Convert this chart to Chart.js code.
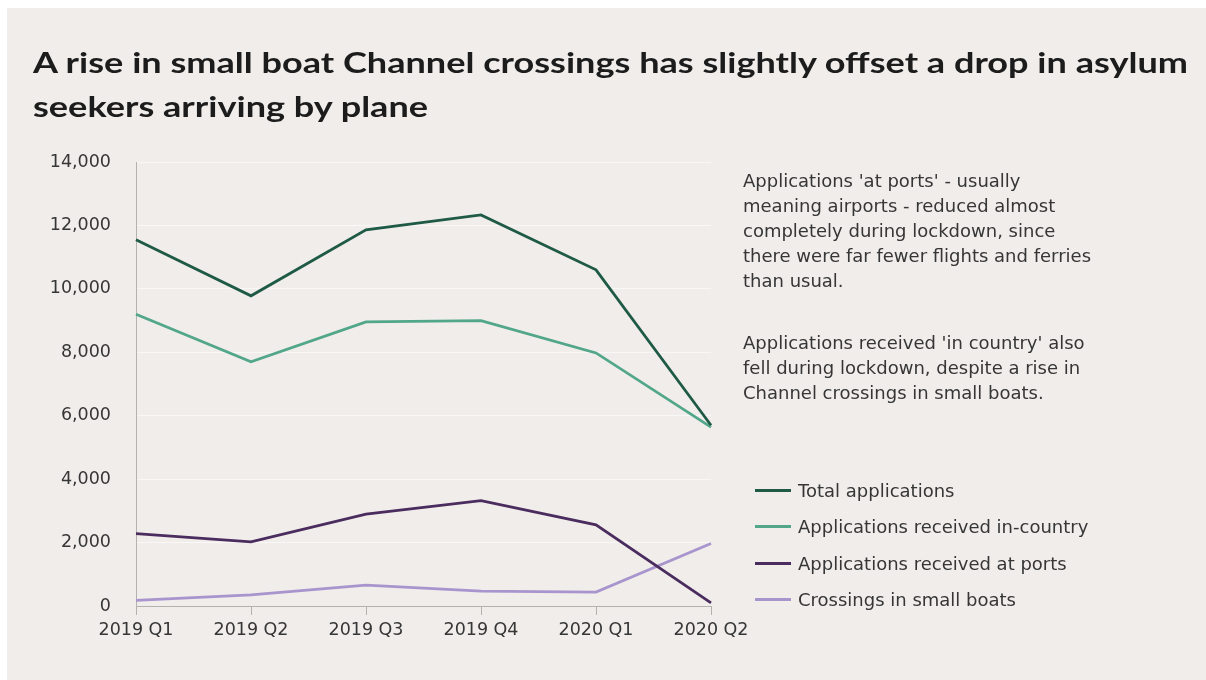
<!DOCTYPE html>
<html>
<head>
<meta charset="utf-8">
<script src="https://cdn.jsdelivr.net/npm/chart.js@4"></script>
<style>
  html, body { margin: 0; padding: 0; background: #ffffff; }
  #panel { position: absolute; left: 7px; top: 8px; width: 1199px; height: 672px; background: #f0edeb; }
  #wrap { position: absolute; left: 0; top: 0; width: 1206px; height: 680px; }
  #title { position: absolute; left: 33px; top: 40px; font-family: Lato, sans-serif; font-weight: 700; font-size: 29px; line-height: 44px; color: #1c1c1c; white-space: nowrap; transform-origin: 0 0; }
  .note { position: absolute; left: 743px; width: 440px; font-family: "DejaVu Sans", sans-serif; font-size: 18px; line-height: 25px; color: #363636; white-space: nowrap; }
  #legend { position: absolute; left: 755px; top: 478px; font-family: "DejaVu Sans", sans-serif; font-size: 18px; color: #363636; }
  .li { height: 36.5px; display: flex; align-items: center; }
  .sw { width: 36px; height: 3px; margin-right: 7px; margin-top: -12px; }
  .lt { margin-top: -12px; }
</style>
</head>
<body>
<div id="panel"></div>
<div id="wrap"><canvas id="c" width="1206" height="680"></canvas></div>
<div id="title"><span id="t1">A rise in small boat Channel crossings has slightly offset a drop in asylum</span><br>seekers arriving by plane</div>
<div class="note" style="top:168px">Applications 'at ports' - usually<br>meaning airports - reduced almost<br>completely during lockdown, since<br>there were far fewer flights and ferries<br>than usual.</div>
<div class="note" style="top:330px">Applications received 'in country' also<br>fell during lockdown, despite a rise in<br>Channel crossings in small boats.</div>
<div id="legend"></div>
<script>
const categories = ['2019 Q1', '2019 Q2', '2019 Q3', '2019 Q4', '2020 Q1', '2020 Q2'];
const totalApplications = [11550, 9780, 11860, 12330, 10600, 5700];
const inCountry = [9200, 7700, 8960, 9000, 7980, 5640];
const atPorts = [2280, 2020, 2900, 3320, 2560, 100];
const smallBoats = [180, 350, 660, 470, 440, 1970];
const yTicks = [0, 2000, 4000, 6000, 8000, 10000, 12000, 14000];
const seriesNames = ['Total applications', 'Applications received in-country', 'Applications received at ports', 'Crossings in small boats'];
const seriesColors = ['#1f5a46', '#52a78a', '#4a2d5e', '#a995cd'];
const seriesData = [totalApplications, inCountry, atPorts, smallBoats];

// stretch title horizontally to match the reference's wide typeface
const t = document.getElementById('title');
const w = document.getElementById('t1').getBoundingClientRect().width;
t.style.transform = 'scaleX(' + (1155 / w) + ')';

const datasets = seriesData.map((d, i) => ({
  label: seriesNames[i],
  data: d,
  borderColor: seriesColors[i],
  backgroundColor: seriesColors[i],
  borderWidth: 2.8,
  pointRadius: 0,
  tension: 0,
  fill: false
}));

const tickFont = { family: 'DejaVu Sans', size: 17.5 };

new Chart(document.getElementById('c'), {
  type: 'line',
  data: { labels: categories, datasets: datasets },
  options: {
    responsive: false,
    animation: false,
    layout: { padding: { left: 0, right: 495, top: 162, bottom: 24 } },
    plugins: { legend: { display: false }, tooltip: { enabled: false } },
    scales: {
      x: {
        offset: false,
        grid: { display: true, drawOnChartArea: false, drawTicks: true, tickLength: 9, color: '#b5b1ae' },
        border: { display: true, color: '#b5b1ae', width: 1 },
        ticks: { color: '#363636', font: tickFont, padding: 5, maxRotation: 0, autoSkip: false },
        afterFit: s => { s.height = 50; }
      },
      y: {
        min: 0, max: 14000,
        afterBuildTicks: s => { s.ticks = yTicks.map(v => ({ value: v })); },
        grid: { color: '#faf8f7', lineWidth: 1, drawTicks: false },
        border: { display: true, color: '#b5b1ae', width: 1 },
        ticks: { color: '#363636', font: tickFont, padding: 25, callback: v => v.toLocaleString('en-US') },
        afterFit: s => { s.width = 136; }
      }
    }
  }
});

const lg = document.getElementById('legend');
seriesNames.forEach((n, i) => {
  const row = document.createElement('div');
  row.className = 'li';
  row.innerHTML = '<div class="sw" style="background:' + seriesColors[i] + '"></div><div class="lt">' + n + '</div>';
  lg.appendChild(row);
});
</script>
</body>
</html>
